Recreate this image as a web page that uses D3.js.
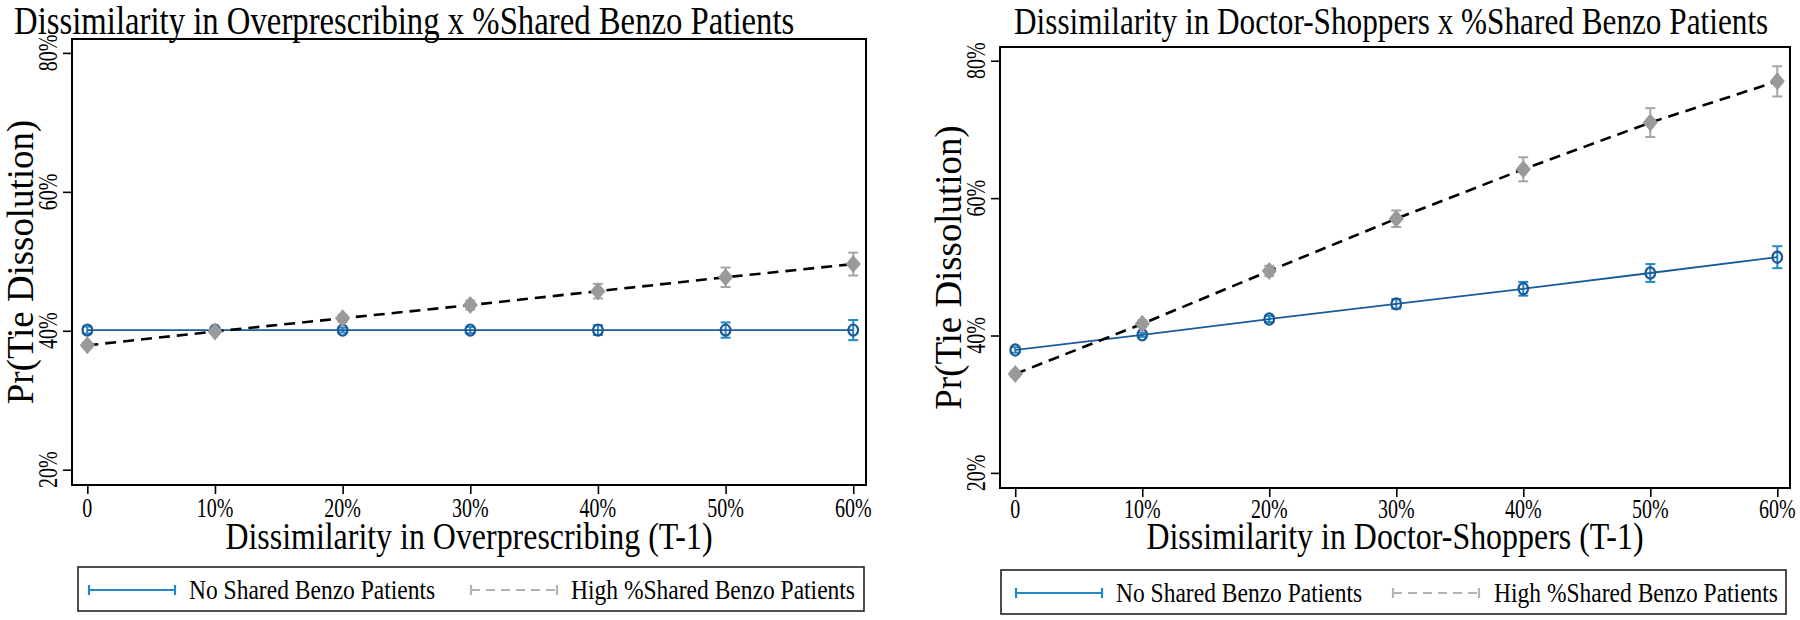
<!DOCTYPE html>
<html>
<head>
<meta charset="utf-8">
<script src="https://cdn.jsdelivr.net/npm/d3@7"></script>
<style>
  html, body { margin: 0; padding: 0; background: #fff; }
  svg { display: block; }
  text { font-family: "Liberation Serif", "Times New Roman", serif; fill: #000; }
</style>
</head>
<body>
<svg id="chart" width="1800" height="620"></svg>
<script>
// ---------------- data ----------------
const xTicks = [0, 10, 20, 30, 40, 50, 60];
const xTickLabels = ["0", "10%", "20%", "30%", "40%", "50%", "60%"];
const yTicks = [20, 40, 60, 80];
const yTickLabels = ["20%", "40%", "60%", "80%"];

const seriesNames = ["No Shared Benzo Patients", "High %Shared Benzo Patients"];

const titles = ["Dissimilarity in Overprescribing x %Shared Benzo Patients",
                "Dissimilarity in Doctor-Shoppers x %Shared Benzo Patients"];
const xTitles = ["Dissimilarity in Overprescribing (T-1)",
                 "Dissimilarity in Doctor-Shoppers (T-1)"];
const yTitle = "Pr(Tie Dissolution)";

// Panel 1: Overprescribing
const overNoShared    = [40.1, 40.1, 40.1, 40.1, 40.1, 40.1, 40.1];
const overNoSharedErr = [0.5, 0.3, 0.35, 0.45, 0.7, 1.1, 1.45];
const overHigh        = [37.9, 39.9, 41.8, 43.7, 45.7, 47.7, 49.6];
const overHighErr     = [0.4, 0.35, 0.5, 0.65, 1.05, 1.4, 1.65];

// Panel 2: Doctor-Shoppers
const docNoShared    = [37.9, 40.1, 42.4, 44.6, 46.8, 49.1, 51.4];
const docNoSharedErr = [0.4, 0.3, 0.45, 0.7, 1.0, 1.3, 1.6];
const docHigh        = [34.4, 41.7, 49.4, 57.0, 64.2, 71.0, 77.0];
const docHighErr     = [0.4, 0.5, 0.75, 1.2, 1.75, 2.1, 2.2];

// ---------------- style / layout ----------------
const colLine = "#1c5b9a", colBlueMarker = "#1a5897", colBlueErr = "#2389c6";
const colGreyMarker = "#9a9a9a", colGreyErr = "#a6a6a6", colGreyKey = "#b3b3b3";

const panels = [
  { left: 72, right: 866, top: 39, bottom: 485, tickY: 517,
    title: titles[0], titleX: 14, titleSize: 39, xTitle: xTitles[0],
    a: overNoShared, aErr: overNoSharedErr, b: overHigh, bErr: overHighErr,
    legend: { x0: 78, x1: 864, y0: 567, y1: 611, k1: 89, t1: 189, k2: 471, t2: 571 } },
  { left: 1000, right: 1790, top: 47, bottom: 488, tickY: 518,
    title: titles[1], titleX: 1014, titleSize: 37.2, xTitle: xTitles[1],
    a: docNoShared, aErr: docNoSharedErr, b: docHigh, bErr: docHighErr,
    legend: { x0: 1001, x1: 1786, y0: 570, y1: 614, k1: 1016, t1: 1116, k2: 1393, t2: 1494 } }
];

const svg = d3.select("#chart");

// text drawn in a condensed manner (compression k along reading direction)
function label(g, x, y, s, size, anchor, rot, k) {
  return g.append("text")
    .attr("transform", `translate(${x},${y})` + (rot ? " rotate(-90)" : "") + ` scale(${k},1)`)
    .attr("text-anchor", anchor)
    .attr("font-size", size)
    .text(s);
}

panels.forEach((p) => {
  const g = svg.append("g");
  const x = d3.scaleLinear().domain([-1.2, 61]).range([p.left, p.right]);
  const y = d3.scaleLinear().domain([17.8, 82]).range([p.bottom, p.top]);

  // title
  label(g, p.titleX, 34, p.title, p.titleSize, "start", false, 0.84);

  // y axis ticks
  const yAx = g.append("g").attr("transform", `translate(${p.left},0)`)
    .call(d3.axisLeft(y).tickValues(yTicks).tickSize(9).tickFormat(""));
  yAx.select(".domain").remove();
  yAx.selectAll(".tick line").attr("stroke", "#000").attr("stroke-width", 1.6);
  yTicks.forEach((v, i) => label(g, p.left - 15, y(v), yTickLabels[i], 27, "middle", true, 0.74));

  // x axis ticks
  const xAx = g.append("g").attr("transform", `translate(0,${p.bottom})`)
    .call(d3.axisBottom(x).tickValues(xTicks).tickSize(9).tickFormat(""));
  xAx.select(".domain").remove();
  xAx.selectAll(".tick line").attr("stroke", "#000").attr("stroke-width", 1.6);
  xTicks.forEach((v, i) => label(g, x(v), p.tickY, xTickLabels[i], 27, "middle", false, 0.74));

  // axis titles
  label(g, (p.left + p.right) / 2, 549, p.xTitle, 38, "middle", false, 0.84);
  label(g, p.left - 39, (p.top + p.bottom) / 2, yTitle, 38, "middle", true, 0.97);

  // series
  const line = d3.line().x((d, i) => x(xTicks[i])).y(d => y(d));

  function errBars(vals, errs, color) {
    const eg = g.append("g").attr("stroke", color).attr("stroke-width", 2).attr("fill", "none");
    vals.forEach((v, i) => {
      const cx = x(xTicks[i]), y1 = y(v - errs[i]), y2 = y(v + errs[i]);
      eg.append("line").attr("x1", cx).attr("x2", cx).attr("y1", y1).attr("y2", y2);
      eg.append("line").attr("x1", cx - 5).attr("x2", cx + 5).attr("y1", y1).attr("y2", y1);
      eg.append("line").attr("x1", cx - 5).attr("x2", cx + 5).attr("y1", y2).attr("y2", y2);
    });
  }

  // blue series
  errBars(p.a, p.aErr, colBlueErr);
  g.append("path").datum(p.a).attr("d", line).attr("fill", "none")
    .attr("stroke", colLine).attr("stroke-width", 1.8);
  g.selectAll(null).data(p.a).enter().append("ellipse")
    .attr("cx", (d, i) => x(xTicks[i])).attr("cy", d => y(d))
    .attr("rx", 4.8).attr("ry", 5.6)
    .attr("fill", "none").attr("stroke", colBlueMarker).attr("stroke-width", 2.2);

  // grey series
  errBars(p.b, p.bErr, colGreyErr);
  g.append("path").datum(p.b).attr("d", line).attr("fill", "none")
    .attr("stroke", "#000").attr("stroke-width", 2.6).attr("stroke-dasharray", "11,7");
  g.selectAll(null).data(p.b).enter().append("path")
    .attr("d", (d, i) => {
      const cx = x(xTicks[i]), cy = y(d), h = 9, w = 7.6;
      return `M${cx},${cy - h}L${cx + w},${cy}L${cx},${cy + h}L${cx - w},${cy}Z`;
    })
    .attr("fill", colGreyMarker);

  // frame
  g.append("rect").attr("x", p.left).attr("y", p.top)
    .attr("width", p.right - p.left).attr("height", p.bottom - p.top)
    .attr("fill", "none").attr("stroke", "#000").attr("stroke-width", 2);

  // legend
  const L = p.legend, ly = (L.y0 + L.y1) / 2 + 1;
  g.append("rect").attr("x", L.x0).attr("y", L.y0).attr("width", L.x1 - L.x0).attr("height", L.y1 - L.y0)
    .attr("fill", "#fff").attr("stroke", "#222").attr("stroke-width", 1.6);
  const keyW = 86;
  [[L.k1, colBlueErr, null], [L.k2, colGreyKey, "9,6"]].forEach(([kx, c, dash]) => {
    const kg = g.append("g").attr("stroke", c).attr("stroke-width", 2.2);
    kg.append("line").attr("x1", kx).attr("x2", kx + keyW).attr("y1", ly).attr("y2", ly)
      .attr("stroke-dasharray", dash);
    kg.append("line").attr("x1", kx).attr("x2", kx).attr("y1", ly - 5).attr("y2", ly + 5);
    kg.append("line").attr("x1", kx + keyW).attr("x2", kx + keyW).attr("y1", ly - 5).attr("y2", ly + 5);
  });
  label(g, L.t1, ly + 9, seriesNames[0], 28, "start", false, 0.84);
  label(g, L.t2, ly + 9, seriesNames[1], 28, "start", false, 0.84);
});
</script>
</body>
</html>
